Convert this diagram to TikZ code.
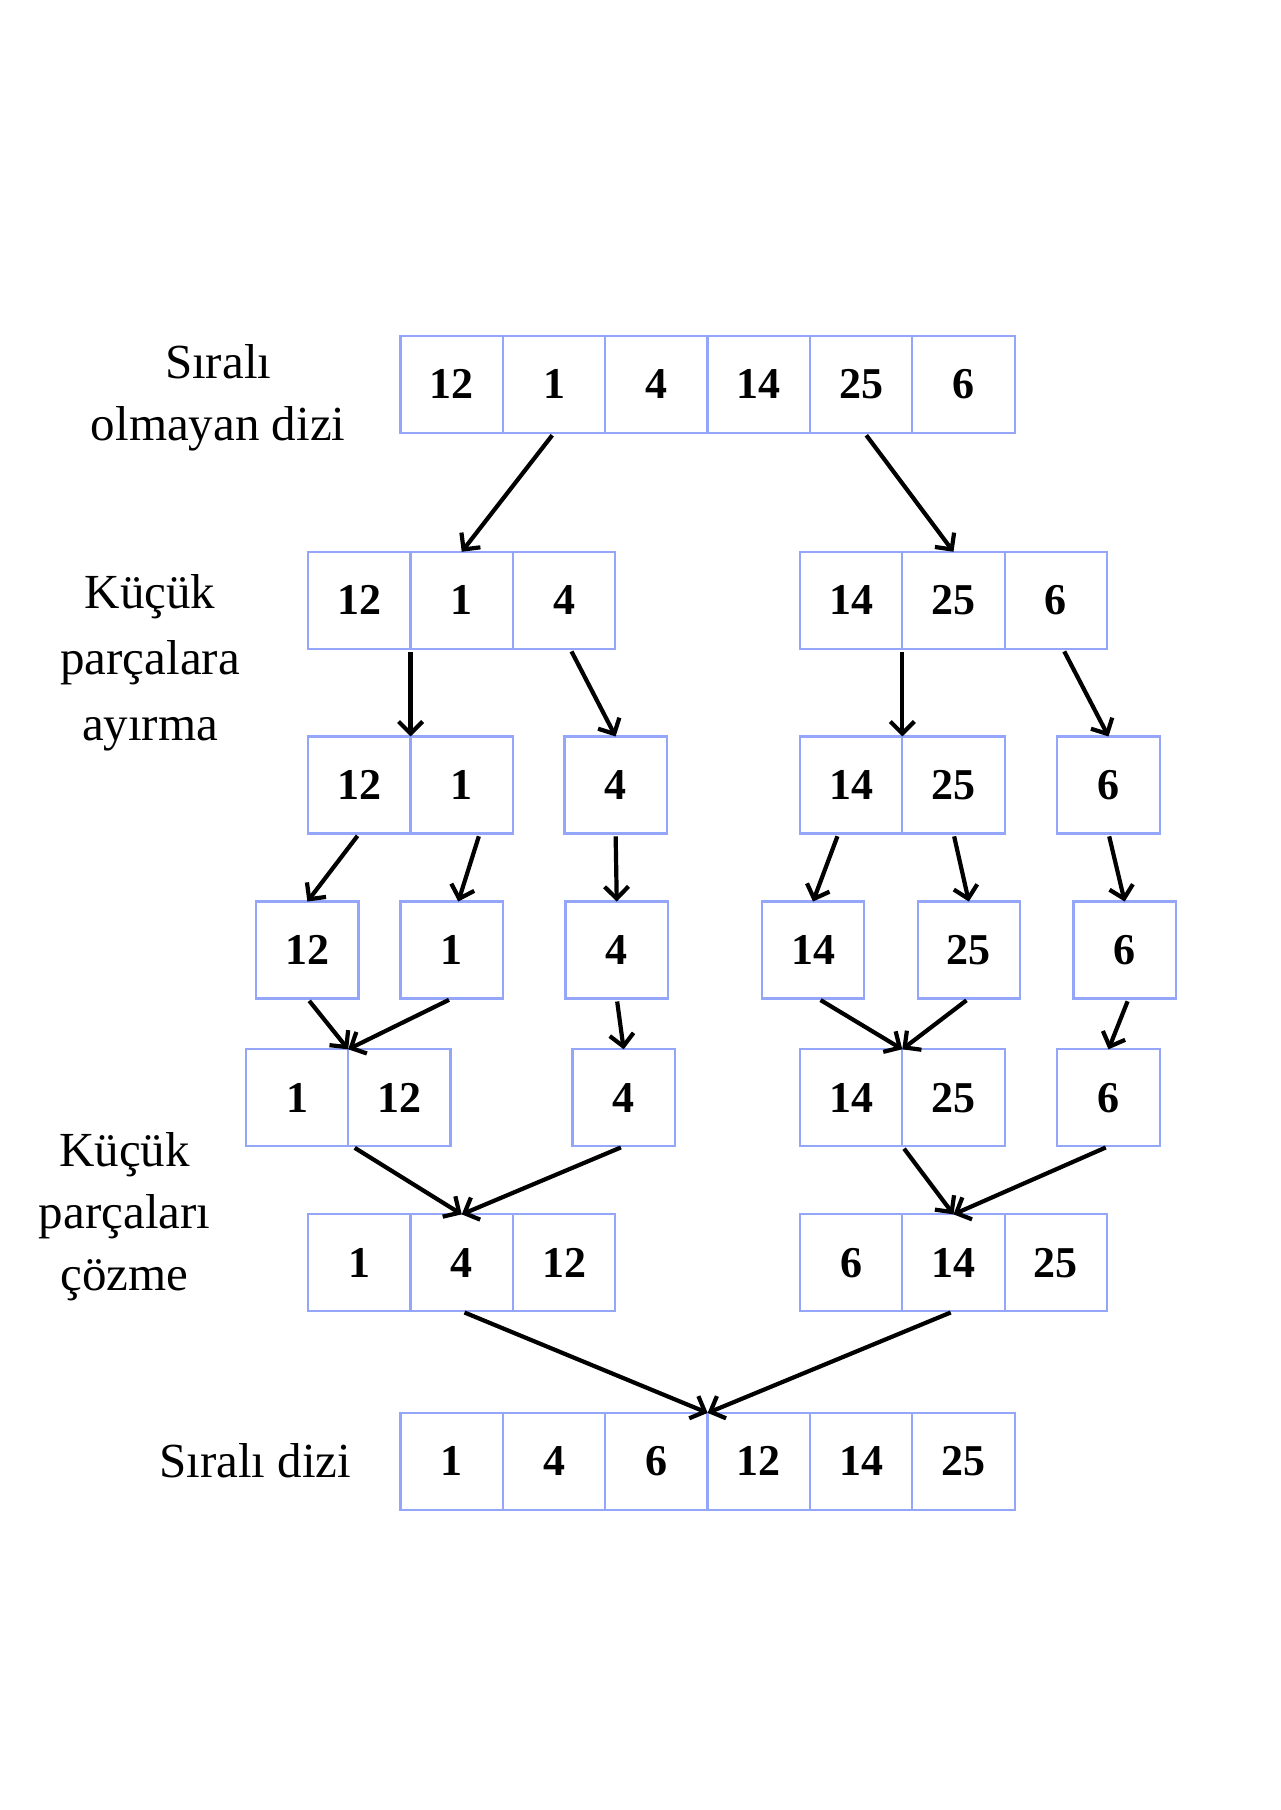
\documentclass[tikz,border=0pt]{standalone}
\usepackage{fontspec}
\setmainfont{Liberation Serif}
\usetikzlibrary{arrows.meta}
\definecolor{cellblue}{RGB}{148,166,250}
\tikzset{
  cell/.style={draw=cellblue, line width=1.1pt, rectangle, inner sep=0pt, outer sep=0pt,
    minimum width=51.17pt, minimum height=48.48pt, font=\fontsize{22}{26}\selectfont\bfseries},
  lbl/.style={align=center, font=\fontsize{24.5}{31}\selectfont},
  arr/.style={line width=2.1pt, shorten <=1.5pt, -{Straight Barb[length=6pt,width=12pt,line width=2.1pt]}}
}
\begin{document}
\begin{tikzpicture}[x=0.57710pt, y=-0.57710pt]
\useasboundingbox (0,0) rectangle (1109,1568);
% labels
\node[lbl] (l1) at (189,345) {Sıralı\\olmayan dizi};
\node[lbl, font=\fontsize{24.5}{33}\selectfont] (l2) at (130,574) {Küçük\\parçalara\\ayırma};
\node[lbl] (l3) at (108,1054) {Küçük\\parçaları\\çözme};
\node[lbl] (l4) at (221,1265) {Sıralı dizi};
% row 1
\node[cell] (a1) at (391.3,333) {12};
\node[cell] (a2) at (480.0,333) {1};
\node[cell] (a3) at (568.7,333) {4};
\node[cell] (a4) at (657.3,333) {14};
\node[cell] (a5) at (746.0,333) {25};
\node[cell] (a6) at (834.7,333) {6};
% row 2
\node[cell] (b1) at (311.3,520) {12};
\node[cell] (b2) at (400.0,520) {1};
\node[cell] (b3) at (488.7,520) {4};
\node[cell] (b4) at (737.3,520) {14};
\node[cell] (b5) at (826.0,520) {25};
\node[cell] (b6) at (914.7,520) {6};
% row 3
\node[cell] (c1) at (311.3,680) {12};
\node[cell] (c2) at (400.0,680) {1};
\node[cell] (c3) at (533.3,680) {4};
\node[cell] (c4) at (737.3,680) {14};
\node[cell] (c5) at (826.0,680) {25};
\node[cell] (c6) at (960.3,680) {6};
% row 4
\node[cell] (d1) at (266.3,823) {12};
\node[cell] (d2) at (391.3,823) {1};
\node[cell] (d3) at (534.3,823) {4};
\node[cell] (d4) at (704.3,823) {14};
\node[cell] (d5) at (839.3,823) {25};
\node[cell] (d6) at (974.3,823) {6};
% row 5
\node[cell] (e1) at (257.3,951) {1};
\node[cell] (e2) at (346.0,951) {12};
\node[cell] (e3) at (540.3,951) {4};
\node[cell] (e4) at (737.3,951) {14};
\node[cell] (e5) at (826.0,951) {25};
\node[cell] (e6) at (960.3,951) {6};
% row 6
\node[cell] (f1) at (311.3,1094) {1};
\node[cell] (f2) at (400.0,1094) {4};
\node[cell] (f3) at (488.7,1094) {12};
\node[cell] (f4) at (737.3,1094) {6};
\node[cell] (f5) at (826.0,1094) {14};
\node[cell] (f6) at (914.7,1094) {25};
% row 7
\node[cell] (g1) at (391.3,1266) {1};
\node[cell] (g2) at (480.0,1266) {4};
\node[cell] (g3) at (568.7,1266) {6};
\node[cell] (g4) at (657.3,1266) {12};
\node[cell] (g5) at (746.0,1266) {14};
\node[cell] (g6) at (834.7,1266) {25};
% arrows
\draw[arr] (a2.south) -- (b2.north);
\draw[arr] ([xshift=1.7pt]a5.south) -- (b5.north);
\draw[arr] (b1.south east) -- (c1.north east);
\draw[arr] ([xshift=3pt]b3.south) -- (c3.north);
\draw[arr] (b4.south east) -- (c4.north east);
\draw[arr] ([xshift=3.5pt]b6.south) -- (c6.north);
\draw[arr] (c1.south) -- (d1.north);
\draw[arr] ([xshift=9pt]c2.south) -- ([xshift=3.3pt]d2.north);
\draw[arr] (c3.south) -- (d3.north);
\draw[arr] ([xshift=-6.3pt]c4.south) -- (d4.north);
\draw[arr] (c5.south) -- (d5.north);
\draw[arr] (c6.south) -- (d6.north);
\draw[arr] (d1.south) -- (e1.north east);
\draw[arr] (d2.south) -- (e1.north east);
\draw[arr] (d3.south) -- (e3.north);
\draw[arr] ([xshift=2.5pt]d4.south) -- (e4.north east);
\draw[arr] (d5.south) -- (e4.north east);
\draw[arr] ([xshift=2pt]d6.south) -- (e6.north);
\draw[arr] ([xshift=2pt]e1.south east) -- (f2.north);
\draw[arr] (e3.south) -- (f2.north);
\draw[arr] (e4.south east) -- (f5.north);
\draw[arr] (e6.south) -- (f5.north);
\draw[arr] (f2.south) -- (g3.north east);
\draw[arr] (f5.south) -- (g3.north east);
\end{tikzpicture}
\end{document}
